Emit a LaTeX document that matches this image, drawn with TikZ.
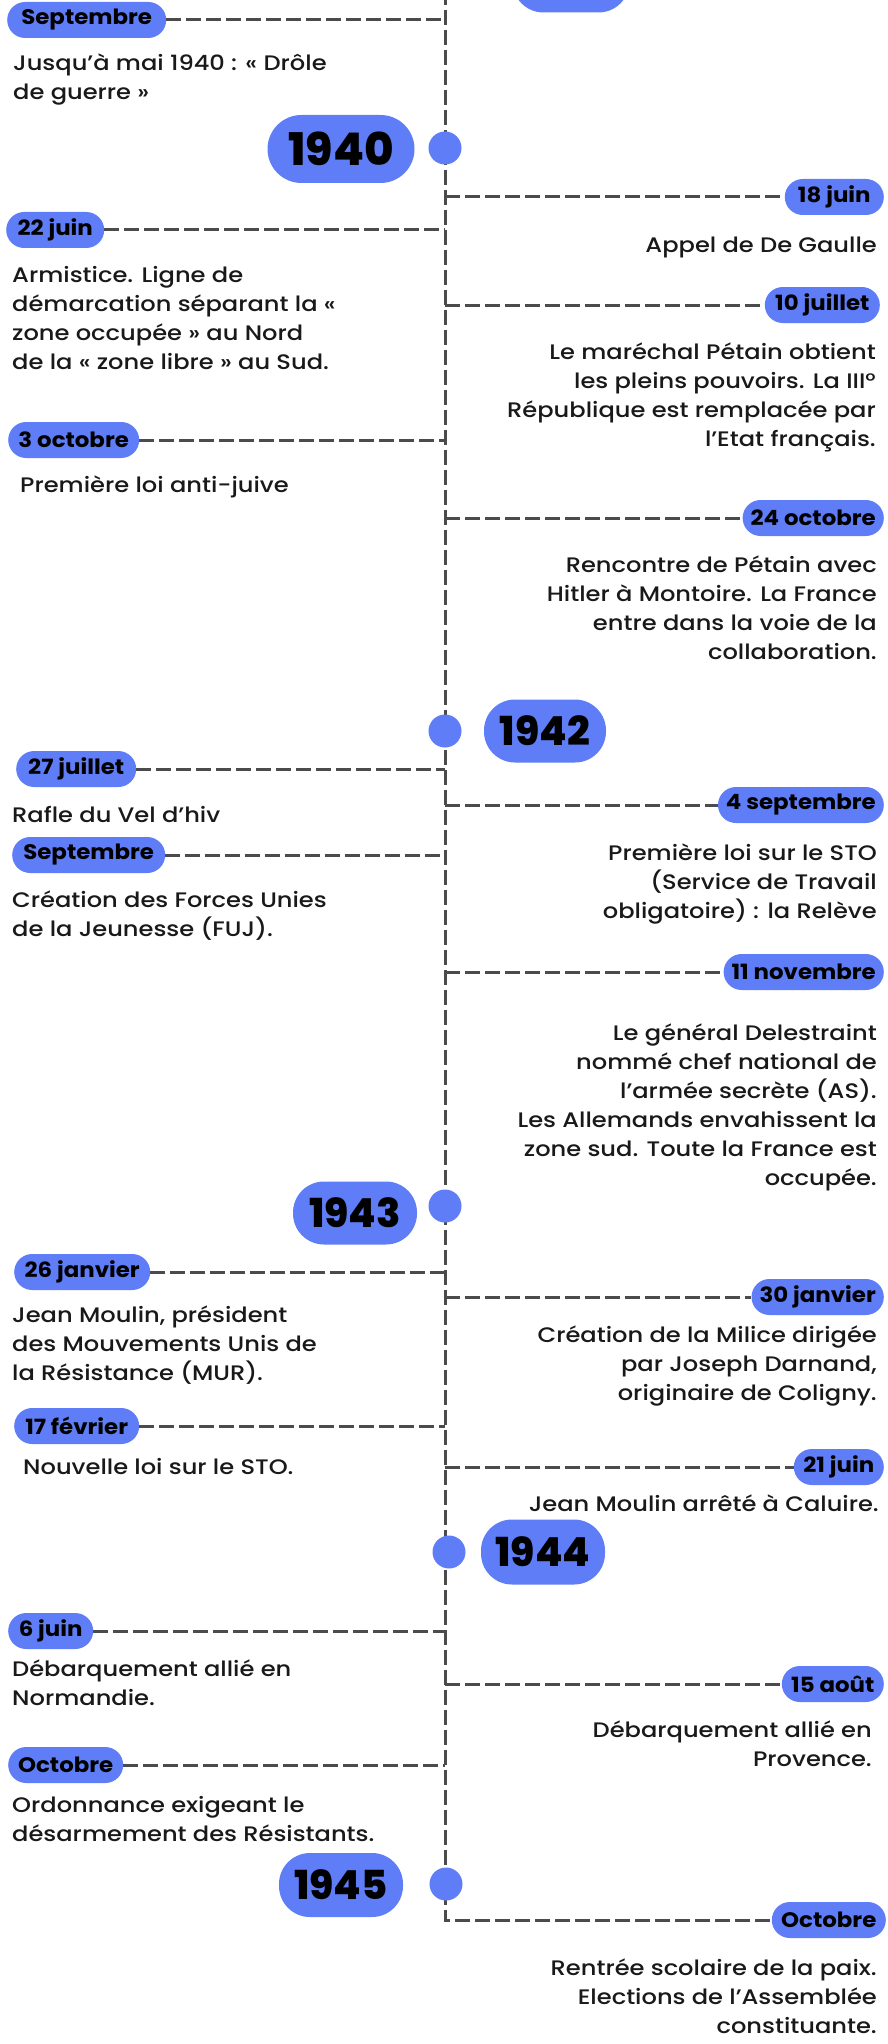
\documentclass[tikz,border=0pt]{standalone}
\usepackage{fontspec}
\setmainfont{Poppins}
\IfFontExistsTF{Poppins Medium}
  {\newfontfamily\bodyfont{Poppins Medium}[FakeStretch=1.15]}
  {\newfontfamily\bodyfont{Poppins}[FakeStretch=1.15,FakeBold=0.6]}
\newfontfamily\pillfont{Poppins}[FakeStretch=1.09]
\IfFontExistsTF{Poppins ExtraBold}
  {\newfontfamily\yearfont{Poppins ExtraBold}}
  {\newfontfamily\yearfont{Poppins}[FakeBold=1.2]}
\definecolor{pillblue}{RGB}{94,125,247}
\definecolor{dashgray}{RGB}{75,75,75}
\definecolor{ink}{RGB}{25,25,25}
\begin{document}
\begin{tikzpicture}[x=1pt,y=-1pt,
  pill/.style={fill=pillblue, rounded corners=18pt, minimum height=36pt, inner xsep=8pt, inner ysep=0pt, font=\pillfont\fontsize{21}{24}\selectfont\bfseries, text=black},
  yearpill/.style={fill=pillblue, rounded corners=31pt, minimum height=63pt, minimum width=124pt, inner sep=0pt, font=\yearfont\fontsize{40}{48}\selectfont, text=black},
  yeardot/.style={circle, fill=pillblue, minimum size=33pt, inner sep=0pt},
  conn/.style={draw=dashgray, line width=3pt, dash pattern=on 15pt off 5pt},
  ltext/.style={anchor=north west, align=left, inner sep=0pt, font=\bodyfont\fontsize{21}{29}\selectfont, text=ink},
  rtext/.style={anchor=north east, align=right, inner sep=0pt, font=\bodyfont\fontsize{21}{29}\selectfont, text=ink},
]
\useasboundingbox[fill=white] (0,0) rectangle (888,2044);
\clip (0,0) rectangle (888,2044);

% left date pills
\node[pill, anchor=west, minimum width=159pt] (l1) at (7,20) {Septembre};
\node[pill, anchor=west, minimum width=98pt] (l2) at (6,230) {22 juin};
\node[pill, anchor=west, minimum width=131pt] (l3) at (8,440) {3 octobre};
\node[pill, anchor=west, minimum width=120pt] (l4) at (16,769) {27 juillet};
\node[pill, anchor=west, minimum width=153pt] (l5) at (12,855) {Septembre};
\node[pill, anchor=west, minimum width=136pt] (l6) at (14,1272) {26 janvier};
\node[pill, anchor=west, minimum width=125pt] (l7) at (14,1426) {17 février};
\node[pill, anchor=west, minimum width=85pt] (l8) at (8,1631) {6 juin};
\node[pill, anchor=west, minimum width=115pt] (l9) at (8,1765) {Octobre};

% right date pills
\node[pill, anchor=east, minimum width=99pt] (r1) at (884,197) {18 juin};
\node[pill, anchor=east, minimum width=115pt] (r2) at (880,305) {10 juillet};
\node[pill, anchor=east, minimum width=138pt] (r3) at (884,518) {24 octobre};
\node[pill, anchor=east, minimum width=164pt] (r4) at (884,805) {4 septembre};
\node[pill, anchor=east, minimum width=159pt] (r5) at (884,972) {11 novembre};
\node[pill, anchor=east, minimum width=130pt] (r6) at (884,1297) {30 janvier};
\node[pill, anchor=east, minimum width=90pt] (r7) at (884,1467) {21 juin};
\node[pill, anchor=east, minimum width=102pt] (r8) at (884,1684) {15 août};
\node[pill, anchor=east, minimum width=114pt] (r9) at (886,1920) {Octobre};

% central line
\coordinate (top) at (445,-10);
\draw[conn] (top) |- (r9.west);

% left branches
\foreach \n in {l1,l2,l3,l4,l5,l6,l7,l8,l9}
  \draw[conn] (\n.east) -- (\n.east -| top);
% right branches
\foreach \n in {r1,r2,r3,r4,r5,r6,r7,r8}
  \draw[conn] (\n.west -| top) -- (\n.west);

% year pills and dots
\node[yearpill, minimum width=117pt] (y39) at (571,-19) {};
\node[yearpill, minimum width=147pt, minimum height=68pt, rounded corners=34pt, font=\yearfont\fontsize{45}{50}\selectfont] (y40) at (341,149) {1940};
\node[yearpill, minimum width=122pt] (y42) at (545,731) {1942};
\node[yearpill] (y43) at (355,1213) {1943};
\node[yearpill, minimum height=65pt] (y44) at (543,1552) {1944};
\node[yearpill, minimum height=64pt] (y45) at (341,1885) {1945};

\node[yeardot] (d40) at (445,148) {};
\node[yeardot] (d42) at (445,731) {};
\node[yeardot] (d43) at (445,1206) {};
\node[yeardot] (d44) at (449,1552) {};
\node[yeardot] (d45) at (446,1884) {};

% left texts
\node[ltext] (t1) at (13,49.7) {\strut Jusqu’à mai 1940 : « Drôle\\de guerre »};
\node[ltext] (t2) at (12,261.7) {\strut Armistice. Ligne de\\démarcation séparant la «\\zone occupée » au Nord\\de la « zone libre » au Sud.};
\node[ltext] (t3) at (20,471.7) {\strut Première loi anti-juive};
\node[ltext] (t4) at (12,801.7) {\strut Rafle du Vel d’hiv};
\node[ltext] (t5) at (12,886.7) {\strut Création des Forces Unies\\de la Jeunesse (FUJ).};
\node[ltext] (t6) at (12,1301.7) {\strut Jean Moulin, président\\des Mouvements Unis de\\la Résistance (MUR).};
\node[ltext] (t7) at (23,1453.7) {\strut Nouvelle loi sur le STO.};
\node[ltext] (t8) at (12,1655.7) {\strut Débarquement allié en\\Normandie.};
\node[ltext] (t9) at (12,1791.7) {\strut Ordonnance exigeant le\\désarmement des Résistants.};

% right texts
\node[rtext] (u1) at (877,231.7) {\strut Appel de De Gaulle};
\node[rtext] (u2) at (876,338.7) {\strut Le maréchal Pétain obtient\\les pleins pouvoirs. La III°\\République est remplacée par\\l’Etat français.};
\node[rtext] (u3) at (877,551.7) {\strut Rencontre de Pétain avec\\Hitler à Montoire. La France\\entre dans la voie de la\\collaboration.};
\node[rtext] (u4) at (877,839.7) {\strut Première loi sur le STO\\(Service de Travail\\obligatoire) : la Relève};
\node[rtext] (u5) at (877,1019.7) {\strut Le général Delestraint\\nommé chef national de\\l’armée secrète (AS).\\Les Allemands envahissent la\\zone sud. Toute la France est\\occupée.};
\node[rtext] (u6) at (877,1321.7) {\strut Création de la Milice dirigée\\par Joseph Darnand,\\originaire de Coligny.};
\node[rtext] (u7) at (879,1490.7) {\strut Jean Moulin arrêté à Caluire.};
\node[rtext] (u8) at (872,1716.7) {\strut Débarquement allié en\\Provence.};
\node[rtext] (u9) at (877,1954.7) {\strut Rentrée scolaire de la paix.\\Elections de l’Assemblée\\constituante.};
\end{tikzpicture}
\end{document}
